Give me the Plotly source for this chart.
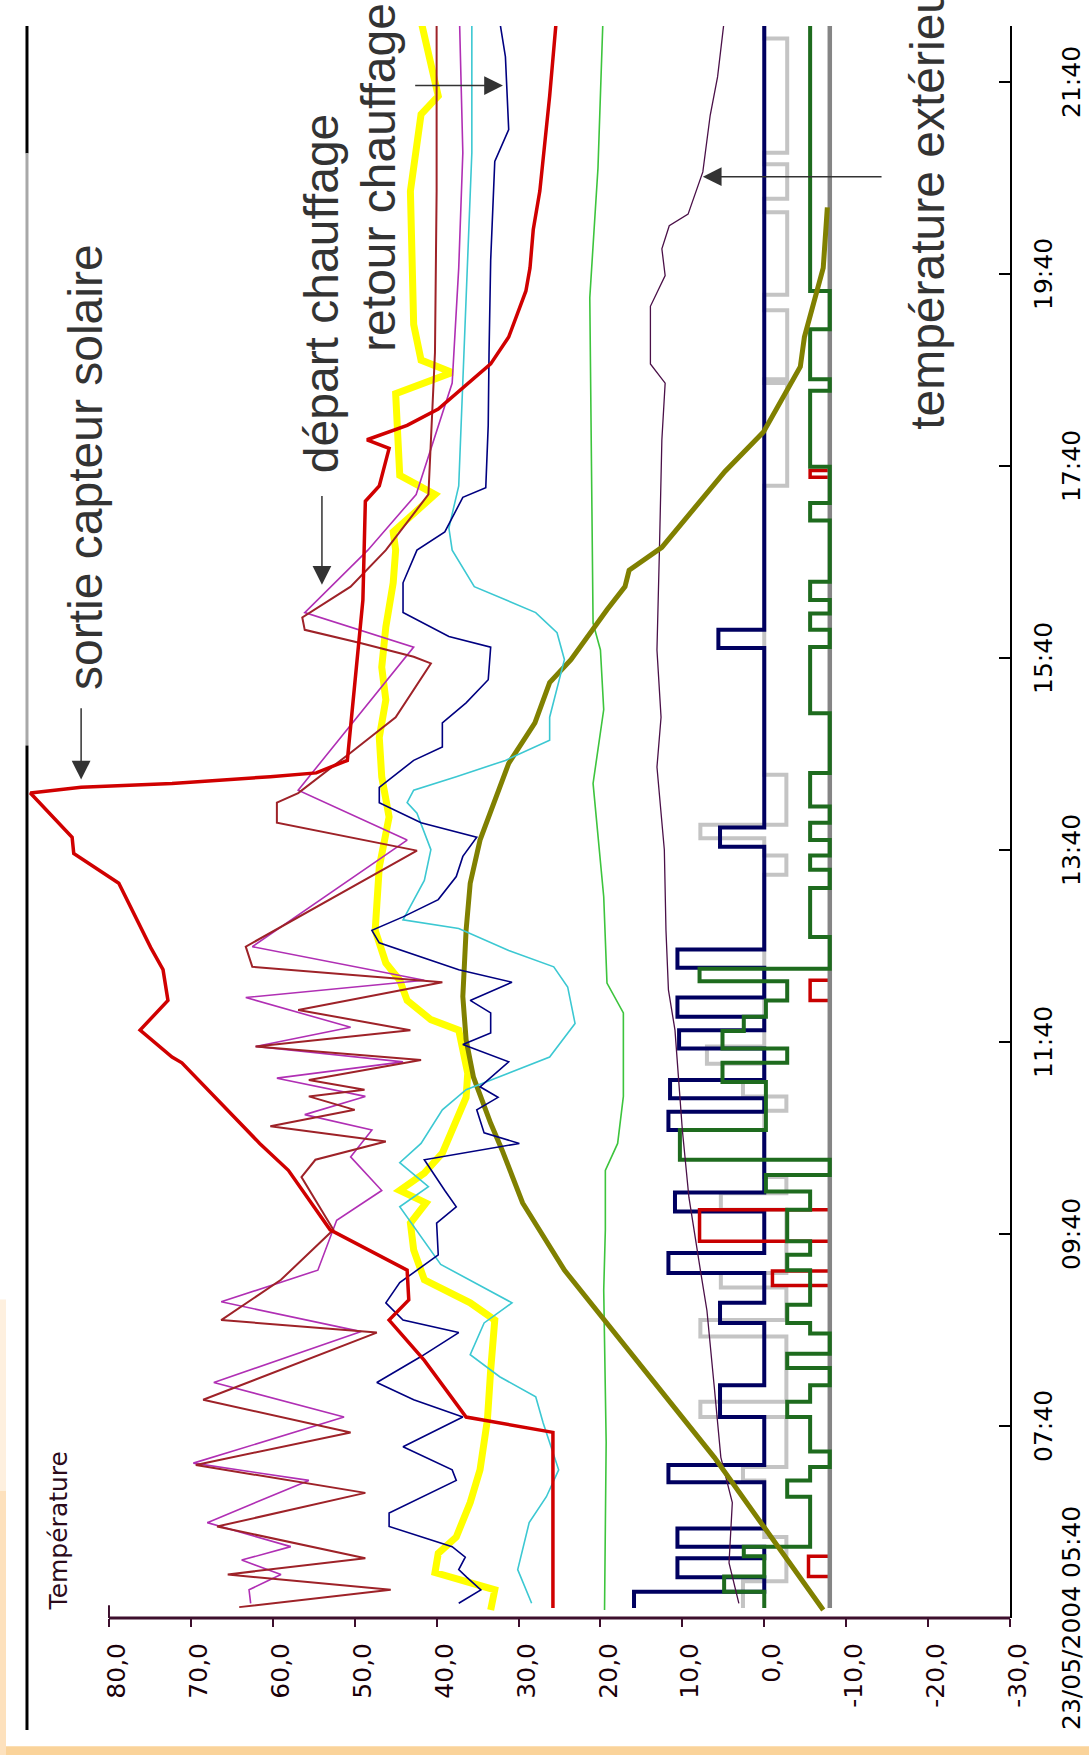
import plotly.graph_objects as go

# ---------------- data (time in decimal hours, temperature in °C) ----------------
red_t = [5.77, 7.60, 7.76, 8.35, 8.77, 8.98, 9.29, 9.71, 10.33, 10.61, 11.45, 11.51, 11.79, 12.10, 12.42,
         12.65, 13.32, 13.63, 13.80, 14.26, 14.32, 14.36, 14.43, 14.47, 14.60, 15.75, 16.27, 17.30, 17.46,
         17.85, 17.94, 18.09, 18.26, 18.73, 19.01, 19.49, 19.73, 20.13, 20.53, 21.52, 22.30]
red_v = [25.8, 25.8, 36.4, 41.5, 45.8, 43.4, 43.6, 53.0, 58.1, 61.6, 71.1, 72.3, 76.2, 72.8, 73.4,
         74.9, 78.8, 84.3, 84.5, 89.6, 83.4, 72.3, 60.3, 54.7, 50.9, 49.6, 49.0, 48.7, 47.0,
         45.8, 48.5, 43.6, 39.8, 33.4, 31.2, 29.1, 28.6, 28.2, 27.4, 26.2, 25.4]

yel_t = [5.75, 5.96, 6.14, 6.34, 6.51, 6.87, 7.21, 7.73, 8.25, 8.77, 8.95, 9.19, 9.50, 9.78, 9.99, 10.12,
         10.30, 10.51, 11.09, 11.34, 11.79, 11.90, 12.10, 12.31, 12.49, 12.83, 13.49, 14.01, 14.43, 14.84,
         15.23, 15.57, 15.99, 16.45, 16.79, 16.98, 17.37, 17.57, 18.42, 18.64, 18.77, 19.14, 20.53, 21.33,
         21.52, 21.93, 22.30]
yel_v = [33.4, 32.9, 40.2, 39.8, 37.6, 35.9, 34.7, 33.8, 33.4, 32.9, 35.9, 41.5, 42.8, 43.2, 41.3, 44.5,
         41.5, 39.3, 36.4, 36.2, 37.3, 40.7, 43.6, 44.5, 46.2, 47.5, 47.0, 45.8, 46.7, 47.0,
         46.2, 46.7, 46.2, 45.3, 45.0, 45.3, 40.2, 44.5, 45.0, 38.1, 41.9, 42.8, 43.2, 41.9,
         39.8, 41.0, 41.9]

nav_t = [5.82, 5.96, 6.09, 6.17, 6.30, 6.41, 6.62, 6.76, 7.10, 7.21, 7.45, 7.76, 7.94, 8.12, 8.39, 8.64,
         8.77, 8.95, 9.16, 9.45, 9.78, 9.95, 10.12, 10.44, 10.61, 10.72, 10.96, 11.09, 11.20, 11.46, 11.64,
         11.76, 11.97, 12.10, 12.29, 12.42, 12.70, 12.83, 12.97, 13.15, 13.39, 13.60, 13.80, 13.95, 14.16,
         14.32, 14.60, 14.74, 14.99, 15.20, 15.44, 15.78, 15.89, 16.14, 16.45, 16.79, 16.98, 17.34, 17.44,
         18.09, 18.85, 19.81, 20.84, 21.17, 21.93, 22.30]
nav_v = [37.3, 34.6, 36.3, 37.3, 36.5, 38.1, 45.8, 45.8, 37.6, 38.1, 44.1, 36.8, 42.8, 47.3, 41.9, 37.3,
         44.1, 46.2, 44.5, 39.8, 40.0, 37.6, 39.0, 41.5, 29.9, 34.2, 35.1, 32.5, 34.7, 31.2, 36.8,
         33.4, 33.4, 35.9, 30.8, 37.3, 47.0, 47.9, 44.1, 39.8, 37.6, 36.8, 35.1, 41.9, 47.0,
         47.0, 42.8, 39.3, 39.3, 36.4, 33.7, 33.4, 38.5, 44.1, 44.1, 42.4, 39.0, 36.8, 34.0,
         33.7, 33.6, 33.4, 32.9, 31.2, 31.6, 32.3]

cy_t = [5.82, 6.17, 6.66, 6.93, 7.21, 7.70, 7.97, 8.18, 8.41, 8.74, 8.95, 9.35, 9.95, 10.16, 10.41, 10.61,
        10.96, 11.17, 11.51, 11.86, 12.24, 12.45, 12.62, 12.85, 12.94, 13.35, 13.67, 14.05, 14.16, 14.29,
        14.43, 14.60, 14.81, 15.05, 15.65, 15.93, 16.14, 16.30, 16.41, 16.79, 17.02, 17.46, 18.53, 19.53,
        20.93, 22.30]
cy_v = [28.4, 30.1, 28.7, 26.6, 25.1, 27.0, 27.9, 32.3, 35.9, 34.2, 30.8, 39.5, 44.5, 41.0, 44.5, 41.9,
        39.3, 36.4, 26.2, 23.1, 24.0, 25.7, 31.2, 37.3, 44.1, 41.5, 40.7, 42.4, 43.6, 42.8,
        37.6, 31.6, 26.2, 26.2, 24.4, 25.3, 27.9, 32.3, 35.4, 38.1, 38.5, 37.3, 36.8, 36.4,
        35.7, 35.7]

mr_t = [5.78, 5.96, 6.12, 6.29, 6.62, 6.97, 7.26, 7.60, 7.94, 8.64, 8.77, 9.19, 9.71, 10.26, 10.44, 10.63,
        10.79, 10.96, 11.10, 11.17, 11.27, 11.48, 11.62, 11.79, 12.00, 12.29, 12.45, 12.66, 13.66, 13.95,
        14.16, 14.26, 14.68, 15.05, 15.61, 15.68, 15.82, 15.96, 16.09, 16.41, 16.79, 17.37, 18.85, 20.53,
        22.30]
mr_v = [64.1, 45.6, 65.5, 48.7, 66.8, 48.7, 69.4, 50.5, 68.5, 47.3, 66.3, 59.0, 52.6, 56.5, 54.8, 46.2,
        60.3, 50.0, 55.6, 48.8, 55.6, 41.9, 62.1, 43.2, 56.9, 39.3, 62.5, 63.3, 42.4, 59.5,
        59.5, 56.9, 50.5, 45.0, 40.7, 42.8, 49.2, 56.1, 56.4, 50.5, 46.2, 41.0, 40.2, 40.0,
        40.0]

mg_t = [5.82, 5.96, 6.12, 6.27, 6.41, 6.66, 7.10, 7.28, 7.76, 8.12, 8.65, 8.96, 9.29, 9.81, 10.12, 10.47,
        10.75, 10.91, 11.10, 11.29, 11.46, 11.62, 11.82, 12.13, 12.31, 12.66, 13.77, 14.29, 15.78, 16.14,
        16.79, 17.37, 18.53, 19.73, 20.93, 22.30]
mg_v = [62.7, 62.9, 59.0, 63.8, 57.8, 68.0, 55.6, 69.7, 51.3, 67.2, 49.2, 66.3, 54.5, 52.2, 46.7, 50.5,
        47.9, 56.1, 48.7, 59.5, 44.1, 62.1, 50.5, 63.3, 41.5, 62.5, 43.6, 56.9, 42.8, 56.1,
        48.4, 42.5, 38.1, 37.3, 36.8, 37.2]

ol_t = [5.75, 7.34, 9.29, 9.53, 9.99, 10.54, 10.82, 11.30, 11.69, 12.14, 12.83, 13.32, 13.77, 14.57,
        14.99, 15.41, 15.65, 16.17, 16.41, 16.58, 16.82, 17.61, 18.02, 18.70, 19.01, 19.73, 20.36]
ol_v = [-7.2, 6.1, 24.4, 26.2, 29.5, 32.0, 33.4, 35.5, 36.4, 36.8, 36.4, 35.9, 34.7, 31.2,
        28.0, 26.2, 23.6, 19.2, 17.0, 16.5, 12.5, 4.8, 0.1, -4.4, -4.9, -7.2, -7.7]

gr_t = [5.75, 7.50, 9.08, 9.71, 10.33, 10.61, 11.10, 11.97, 12.28, 13.18, 14.36, 15.13, 15.75, 16.03,
        19.42, 20.77, 22.30]
gr_v = [19.5, 19.3, 19.6, 19.4, 19.4, 17.9, 17.2, 17.2, 19.2, 19.6, 20.9, 19.6, 20.0, 20.9,
        21.3, 20.3, 19.7]

ext_t = [5.82, 6.24, 6.87, 7.34, 8.07, 8.87, 9.29, 10.05, 10.75, 11.79, 12.21, 12.83, 13.67, 14.53,
         15.05, 15.75, 16.79, 17.94, 18.53, 18.73, 19.33, 19.65, 19.93, 20.17, 20.29, 20.73, 21.32,
         21.72, 22.30]
ext_v = [3.1, 4.3, 3.9, 5.3, 6.1, 7.0, 7.8, 9.2, 10.0, 10.9, 11.7, 12.0, 12.2, 13.1,
         12.6, 13.1, 12.8, 12.5, 12.1, 13.9, 13.9, 12.1, 12.5, 11.6, 9.3, 7.5, 6.6,
         5.7, 4.9]

# on/off pulses of the navy state signal (base level 0)
nv_on = [5.77, 6.09, 6.41, 7.08, 7.76, 8.74, 9.26, 9.90, 10.75, 11.08, 11.60, 11.93, 12.44, 13.70, 15.77]
nv_off = [5.94, 6.29, 6.60, 7.26, 8.09, 8.95, 9.47, 10.10, 10.94, 11.27, 11.79, 12.13, 12.63, 13.90, 15.96]
nv_lvl = [15.9, 10.6, 10.6, 11.7, 5.4, 5.4, 11.7, 10.9, 11.7, 11.5, 10.4, 10.6, 10.6, 5.4, 5.6]
nv_base = 0.0

# level changes of the other state signals
gy_t = [5.77, 6.05, 6.51, 7.10, 7.24, 7.76, 7.92, 8.60, 8.77, 9.11, 9.26, 9.92, 10.09, 10.26, 10.95, 11.10,
        11.27, 11.44, 11.62, 13.41, 13.61, 13.79, 13.93, 14.45, 17.46, 18.53, 18.57, 19.29, 19.45, 20.31,
        20.45, 20.81, 20.93, 22.12, 22.30]
gy_v = [2.6, -2.7, 0.0, 2.6, -2.7, 7.8, -2.7, 7.8, -2.7, 5.3, -2.7, 5.3, -2.7, 0.0, -2.7, 2.6,
        0.0, 7.0, 0.0, -2.7, 0.0, 7.8, -2.7, 0.0, -2.8, 0.0, -2.8, 0.0, -2.8, 0.0,
        -2.8, 0.0, -2.8, 0.0, 0.0]

dg_t = [5.77, 5.94, 6.10, 6.31, 6.41, 6.93, 7.10, 7.24, 7.40, 7.76, 7.92, 8.09, 8.27, 8.42, 8.63, 8.74,
        8.93, 9.29, 9.45, 9.59, 9.92, 10.11, 10.28, 10.44, 10.75, 11.25, 11.45, 11.60, 11.78, 11.93,
        12.10, 12.30, 12.43, 12.76, 13.27, 13.46, 13.61, 13.77, 13.95, 14.12, 14.47, 15.09, 15.78, 15.96,
        16.13, 16.27, 16.46, 17.10, 17.28, 17.66, 18.45, 18.57, 19.09, 19.49, 22.30]
dg_v = [0.0, 4.9, 0.0, 2.5, -5.6, -2.8, -5.6, -8.0, -5.6, -2.8, -5.6, -8.0, -2.8, -8.0, -5.6, -2.8,
        -5.6, -2.8, -5.6, -2.8, -5.6, -0.2, -8.0, 10.3, -0.2, 5.1, -2.8, 5.1, 2.5, -0.2,
        -2.8, 7.9, -8.0, -5.6, -8.0, -5.6, -8.0, -5.6, -8.0, -5.6, -8.0, -5.6, -8.0, -5.6,
        -8.0, -5.6, -8.0, -5.6, -8.0, -5.6, -8.0, -5.6, -8.0, -5.6, -5.6]

rs_t = [5.77, 6.10, 6.31, 9.13, 9.28, 9.59, 9.92, 12.10, 12.31, 17.55, 17.62, 22.30]
rs_v = [-8.0, -5.4, -8.0, -1.0, -8.0, 7.9, -8.0, -5.6, -8.0, -5.6, -8.0, -8.0]

gm_t = [5.77, 22.30]
gm_v = [-8.0, -8.0]

# axes
temp_ticks = [80, 70, 60, 50, 40, 30, 20, 10, 0, -10, -20, -30]
temp_labels = ["80,0", "70,0", "60,0", "50,0", "40,0", "30,0", "20,0", "10,0", "0,0", "-10,0", "-20,0", "-30,0"]
time_labels = ["23/05/2004 05:40", "07:40", "09:40", "11:40", "13:40", "15:40", "17:40", "19:40", "21:40"]
time_ticks = [int(s[-5:-3]) + int(s[-2:]) / 60 for s in time_labels]
t_start, t_end = time_ticks[0], 22.25
temp_min, temp_max, temp_left = -30, 80, 91.96

# ---------------- helpers ----------------
def pulses(on, off, lvl, base, t_end):
    xs, ys = [], []
    for a, b, v in zip(on, off, lvl):
        xs += [v, base]
        ys += [a, b]
    xs.append(base)
    ys.append(t_end)
    return xs, ys

fig = go.Figure()

def add(x, y, color, width, shape="linear"):
    fig.add_trace(go.Scatter(x=x, y=y, mode="lines", line=dict(color=color, width=width, shape=shape),
                             hoverinfo="skip", showlegend=False))

add(gy_v, gy_t, "#C4C4C4", 4, "vh")
nvx, nvy = pulses(nv_on, nv_off, nv_lvl, nv_base, 22.30)
add(nvx, nvy, "#000060", 4, "vh")
add(rs_v, rs_t, "#C80000", 3.5, "vh")
add(gm_v, gm_t, "#858585", 4.5)
add(dg_v, dg_t, "#1E6B1E", 4, "vh")
add(ext_v, ext_t, "#4A1048", 1.3)
add(gr_v, gr_t, "#3DC43D", 1.6)
add(yel_v, yel_t, "#FFFF00", 7)
add(ol_v, ol_t, "#808000", 5)
add(cy_v, cy_t, "#3CC8D2", 1.6)
add(nav_v, nav_t, "#000080", 1.6)
add(mg_v, mg_t, "#B02FB4", 1.6)
add(mr_v, mr_t, "#9E2228", 2)
add(red_v, red_t, "#D00000", 3.5)

annotations = []
# staggered time labels
for i, (lab, tv) in enumerate(zip(time_labels, time_ticks)):
    annotations.append(dict(x=1.061 if i % 2 == 0 else 1.033, y=tv, xref="paper", yref="y",
                            text=lab, showarrow=False, textangle=-90, xanchor="center", yanchor="middle",
                            font=dict(family="DejaVu Sans", size=25, color="#000000")))
# axis title
annotations.append(dict(x=0.047, y=0.055, xref="paper", yref="paper", text="Température", showarrow=False,
                        textangle=-90, xanchor="center", yanchor="middle",
                        font=dict(family="DejaVu Sans", size=25, color="#2b0b1b")))
# callout texts
big = dict(family="Liberation Sans, Arial", size=48, color="#333333")
for txt, px, py in [("sortie capteur solaire", 0.075, 0.723),
                    ("départ chauffage", 0.311, 0.832),
                    ("retour chauffage", 0.368, 0.905),
                    ("température extérieure", 0.918, 0.899)]:
    annotations.append(dict(x=px, y=py, xref="paper", yref="paper", text=txt, showarrow=False,
                            textangle=-90, font=big, xanchor="center", yanchor="middle"))
# callout arrows: (tip T, tip t, tail T, tail t)
for tx, ty, ax, ay in [(83.4, 14.40, 83.4, 15.16), (54.0, 16.43, 54.0, 17.37),
                       (31.9, 21.63, 42.8, 21.63), (7.5, 20.68, -14.5, 20.68)]:
    annotations.append(dict(x=tx, y=ty, ax=ax, ay=ay, xref="x", yref="y", axref="x", ayref="y", text="",
                            showarrow=True, arrowhead=2, arrowsize=2.5, arrowwidth=1.5, arrowcolor="#333333"))

shapes = [
    # temperature axis line
    dict(type="line", xref="x", yref="paper", x0=temp_max, x1=temp_min, y0=0, y1=0,
         line=dict(color="#3d0f2d", width=3)),
    dict(type="line", xref="x", yref="paper", x0=temp_max, x1=temp_max, y0=0, y1=0.008,
         line=dict(color="#3d0f2d", width=2)),
    # decorative left frame line
    dict(type="line", xref="paper", yref="paper", x0=0.016, x1=0.016, y0=1.0, y1=0.920,
         line=dict(color="#000000", width=3)),
    dict(type="line", xref="paper", yref="paper", x0=0.016, x1=0.016, y0=0.920, y1=0.548,
         line=dict(color="#A8A8A8", width=3)),
    dict(type="line", xref="paper", yref="paper", x0=0.016, x1=0.016, y0=0.548, y1=-0.0704,
         line=dict(color="#000000", width=3)),
    # slide border
    dict(type="rect", xref="paper", yref="paper", x0=-0.012, x1=1.08, y0=-0.0805, y1=-0.087,
         fillcolor="#FAD39A", line=dict(width=0), layer="below"),
    dict(type="rect", xref="paper", yref="paper", x0=-0.012, x1=-0.005, y0=0.20, y1=0.08,
         fillcolor="#FEF0DF", line=dict(width=0), layer="below"),
    dict(type="rect", xref="paper", yref="paper", x0=-0.012, x1=-0.005, y0=0.08, y1=-0.087,
         fillcolor="#FDE1BD", line=dict(width=0), layer="below"),
]

fig.update_layout(
    width=1089, height=1755, margin=dict(l=11, r=79, t=26, b=137),
    paper_bgcolor="white", plot_bgcolor="white", showlegend=False,
    annotations=annotations, shapes=shapes,
    xaxis=dict(range=[temp_left, temp_min], tickvals=temp_ticks, ticktext=temp_labels, tickangle=-90,
               ticks="outside", ticklen=8, tickwidth=2, tickcolor="#3d0f2d", showline=False,
               showgrid=False, zeroline=False, automargin=False, ticklabelstandoff=6, ticklabelshift=-8,
               tickfont=dict(family="DejaVu Sans", size=25, color="#1a0008")),
    yaxis=dict(range=[t_start, t_end], side="right", tickvals=time_ticks, showticklabels=False,
               ticks="inside", ticklen=11, tickwidth=2, tickcolor="#000000", showline=True,
               linecolor="#000000", linewidth=2, showgrid=False, zeroline=False, automargin=False),
)

fig.write_html("out.html")
